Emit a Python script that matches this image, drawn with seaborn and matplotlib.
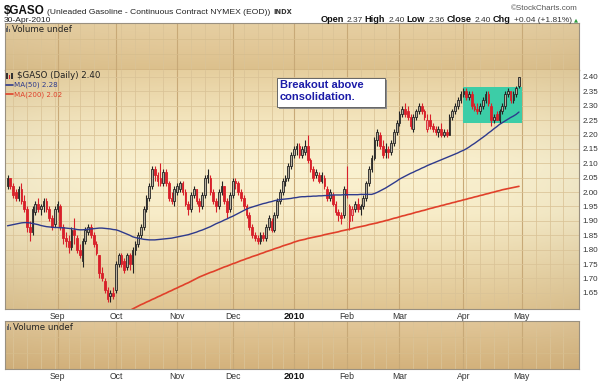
import numpy as np
import pandas as pd
import matplotlib
matplotlib.use("Agg")
import matplotlib.pyplot as plt
import seaborn as sns
from matplotlib.patches import Rectangle
from matplotlib.colors import LinearSegmentedColormap
from matplotlib.text import Annotation

sns.set_theme(style="white")
plt.rcParams["font.family"] = ["Liberation Sans", "DejaVu Sans"]

# ---------------- data ----------------
start_date = "2009-08-06"
end_axis_date = "2010-05-31"
holidays = ["2009-09-07", "2009-11-26", "2009-12-25", "2010-01-01",
            "2010-01-18", "2010-02-15", "2010-04-02", "2010-05-31"]

opens = [2.02,2.05,2.02,2.00,1.98,2.01,1.97,1.94,1.88,1.86,
         1.93,1.96,1.94,1.95,1.97,1.94,1.91,1.89,1.94,1.95,
         1.88,1.84,1.83,1.81,1.87,1.84,1.80,1.76,1.83,1.86,
         1.88,1.85,1.82,1.78,1.72,1.69,1.66,1.64,1.65,1.66,
         1.75,1.78,1.76,1.74,1.78,1.75,1.80,1.82,1.85,1.88,
         1.94,1.98,2.02,2.08,2.06,2.05,2.03,2.07,2.03,1.98,
         1.97,2.00,2.01,2.03,2.00,1.96,1.94,1.99,2.01,1.97,
         1.95,1.99,2.05,2.05,2.00,1.97,1.95,2.00,2.02,1.97,
         1.94,1.99,2.04,2.03,2.00,1.98,1.95,1.92,1.88,1.85,
         1.84,1.83,1.85,1.84,1.88,1.90,1.87,1.92,1.97,2.00,
         2.04,2.05,2.09,2.13,2.15,2.16,2.13,2.14,2.16,2.11,
         2.08,2.06,2.06,2.04,2.05,2.01,1.98,1.99,1.96,1.93,
         1.92,1.92,2.01,1.90,1.92,1.94,1.96,1.94,1.95,1.98,
         2.03,2.08,2.12,2.18,2.20,2.16,2.14,2.15,2.14,2.17,
         2.21,2.24,2.27,2.29,2.28,2.26,2.22,2.26,2.28,2.30,
         2.28,2.22,2.25,2.23,2.22,2.21,2.22,2.20,2.21,2.20,
         2.26,2.28,2.30,2.32,2.34,2.35,2.33,2.34,2.30,2.29,
         2.28,2.30,2.32,2.34,2.30,2.25,2.27,2.25,2.28,2.30,
         2.34,2.35,2.32,2.34,2.37]
highs = [2.06,2.05,2.03,2.01,2.02,2.03,1.99,1.95,1.90,1.95,
         1.97,1.98,1.96,1.98,1.98,1.95,1.92,1.95,1.97,1.96,
         1.89,1.86,1.85,1.88,1.91,1.85,1.82,1.84,1.88,1.89,
         1.89,1.86,1.83,1.78,1.74,1.70,1.67,1.66,1.67,1.76,
         1.79,1.79,1.77,1.79,1.79,1.81,1.83,1.86,1.89,1.95,
         1.99,2.03,2.09,2.09,2.07,2.10,2.08,2.08,2.04,2.00,
         2.02,2.03,2.04,2.04,2.01,1.97,2.00,2.02,2.01,1.98,
         2.00,2.06,2.08,2.06,2.01,1.98,2.01,2.04,2.02,1.98,
         2.00,2.05,2.05,2.04,2.01,1.99,1.96,1.93,1.89,1.86,
         1.85,1.86,1.86,1.89,1.92,1.91,1.93,1.98,2.01,2.05,
         2.06,2.10,2.14,2.16,2.17,2.17,2.16,2.18,2.20,2.12,
         2.09,2.08,2.07,2.07,2.06,2.02,2.01,2.00,1.97,1.94,
         1.93,2.02,2.09,1.96,1.95,1.97,1.98,1.96,1.99,2.04,
         2.09,2.13,2.19,2.22,2.21,2.18,2.17,2.16,2.18,2.22,
         2.25,2.28,2.30,2.31,2.30,2.27,2.27,2.29,2.31,2.31,
         2.29,2.27,2.27,2.24,2.23,2.23,2.24,2.22,2.22,2.27,
         2.29,2.31,2.33,2.35,2.36,2.36,2.35,2.35,2.31,2.31,
         2.31,2.33,2.35,2.35,2.31,2.27,2.28,2.29,2.31,2.35,
         2.36,2.35,2.35,2.37,2.40]
lows = [2.01,2.01,1.98,1.97,1.97,1.96,1.93,1.86,1.83,1.85,
        1.92,1.93,1.92,1.93,1.93,1.90,1.87,1.88,1.93,1.87,
        1.82,1.81,1.79,1.80,1.82,1.79,1.77,1.74,1.82,1.85,
        1.84,1.81,1.78,1.70,1.69,1.65,1.62,1.62,1.63,1.65,
        1.74,1.74,1.72,1.73,1.73,1.72,1.78,1.81,1.84,1.87,
        1.93,1.97,2.01,2.04,2.02,2.02,2.02,2.02,1.97,1.96,
        1.95,1.99,2.00,1.99,1.95,1.92,1.93,1.98,1.96,1.93,
        1.94,1.98,2.03,1.99,1.96,1.93,1.94,1.99,1.96,1.91,
        1.93,1.98,2.01,1.99,1.97,1.94,1.91,1.87,1.84,1.83,
        1.82,1.82,1.83,1.83,1.87,1.86,1.86,1.91,1.96,1.99,
        2.02,2.04,2.08,2.12,2.13,2.12,2.12,2.13,2.10,2.07,
        2.04,2.05,2.03,2.03,2.01,1.97,1.97,1.95,1.92,1.90,
        1.89,1.91,1.98,1.87,1.90,1.93,1.93,1.92,1.94,1.97,
        2.02,2.07,2.11,2.16,2.15,2.12,2.12,2.12,2.13,2.16,
        2.20,2.23,2.26,2.26,2.25,2.22,2.21,2.25,2.27,2.27,
        2.25,2.21,2.22,2.21,2.20,2.19,2.19,2.19,2.19,2.20,
        2.25,2.27,2.29,2.31,2.33,2.32,2.32,2.29,2.28,2.27,
        2.27,2.29,2.31,2.30,2.23,2.24,2.25,2.24,2.27,2.29,
        2.33,2.31,2.31,2.33,2.36]
closes = [2.05,2.02,1.99,1.98,2.01,1.97,1.94,1.88,1.86,1.94,
          1.96,1.94,1.95,1.97,1.94,1.91,1.88,1.94,1.96,1.88,
          1.84,1.83,1.81,1.87,1.85,1.80,1.78,1.83,1.87,1.88,
          1.85,1.82,1.79,1.72,1.70,1.66,1.63,1.65,1.64,1.75,
          1.78,1.75,1.73,1.78,1.75,1.80,1.82,1.85,1.88,1.94,
          1.98,2.02,2.08,2.06,2.04,2.03,2.07,2.03,1.98,1.97,
          2.01,2.02,2.03,2.00,1.96,1.94,1.99,2.01,1.97,1.95,
          1.99,2.05,2.06,2.00,1.97,1.95,2.00,2.02,1.97,1.93,
          1.99,2.04,2.03,2.00,1.98,1.95,1.92,1.88,1.85,1.84,
          1.83,1.85,1.84,1.88,1.91,1.87,1.92,1.97,2.00,2.04,
          2.05,2.09,2.13,2.15,2.16,2.13,2.15,2.16,2.11,2.08,
          2.05,2.07,2.04,2.06,2.02,1.98,2.00,1.96,1.93,1.92,
          1.91,2.01,1.99,1.95,1.94,1.96,1.94,1.95,1.98,2.03,
          2.08,2.12,2.18,2.21,2.16,2.13,2.15,2.14,2.17,2.21,
          2.24,2.27,2.29,2.27,2.26,2.23,2.26,2.28,2.30,2.28,
          2.26,2.25,2.23,2.22,2.21,2.22,2.20,2.21,2.20,2.26,
          2.28,2.30,2.32,2.34,2.35,2.33,2.34,2.30,2.29,2.28,
          2.30,2.32,2.34,2.31,2.25,2.26,2.25,2.28,2.30,2.34,
          2.35,2.32,2.34,2.36,2.40]
ma50 = [1.883,1.885,1.887,1.889,1.891,1.893,1.894,
        1.894,1.893,1.891,1.889,1.887,
        1.884,1.882,1.880,1.879,1.878,
        1.877,1.877,1.876,1.876,1.875,
        1.874,1.873,1.872,1.870,1.869,
        1.869,1.870,1.871,1.872,1.873,1.874,1.875,
        1.875,1.874,1.873,1.872,1.870,1.869,
        1.866,1.862,1.858,1.854,1.850,1.845,
        1.842,1.840,1.838,1.836,1.835,1.834,
        1.834,1.834,1.835,1.836,1.837,1.838,
        1.839,1.840,1.842,1.844,1.846,1.848,
        1.850,1.852,1.855,1.858,1.861,1.865,
        1.868,1.872,1.876,1.880,1.885,1.890,
        1.894,1.898,1.903,1.907,1.912,1.916,1.921,
        1.926,1.931,1.936,1.941,1.945,
        1.948,1.951,1.954,1.957,1.960,1.962,1.965,1.967,1.970,1.972,
        1.974,1.975,1.976,1.977,1.978,1.980,1.981,1.983,
        1.984,1.984,1.985,1.985,1.986,1.986,1.987,1.987,1.988,1.988,1.989,1.990,
        1.990,1.990,1.990,1.991,1.991,1.991,1.991,1.991,1.991,1.992,1.992,1.992,1.992,1.992,
        1.995,1.999,2.004,2.009,2.014,2.020,2.026,2.032,2.038,2.045,
        2.050,2.055,2.060,2.065,2.069,2.074,2.078,2.083,2.087,2.092,2.096,2.100,
        2.104,2.108,2.112,2.116,2.120,2.124,2.128,
        2.132,2.136,2.141,2.145,2.150,
        2.156,2.163,2.169,2.176,2.183,2.190,
        2.197,2.205,2.212,2.220,2.227,2.235,
        2.241,2.247,2.253,2.259,2.264,2.270,2.278]
ma200_first_day = 44
ma200 = [1.589,1.594,1.599,1.604,1.609,1.613,
         1.618,1.622,1.627,1.631,1.636,1.640,1.645,1.649,1.654,1.658,
         1.663,1.667,1.672,1.676,1.681,1.685,1.690,1.695,1.700,1.705,
         1.709,1.713,1.717,1.721,1.724,1.728,1.732,1.736,1.740,1.743,1.747,1.751,1.754,1.758,1.762,1.765,
         1.769,1.772,1.776,1.779,1.782,1.786,1.789,1.793,1.796,1.799,1.803,1.806,1.809,1.813,1.816,1.819,1.822,1.826,1.829,1.832,
         1.834,1.836,1.839,1.841,1.843,1.845,1.847,1.849,1.852,1.854,1.856,1.858,1.860,1.862,1.865,1.867,1.869,1.871,1.873,1.876,1.878,1.880,1.882,1.884,1.887,1.889,1.891,1.893,
         1.896,1.898,1.901,1.903,1.906,1.909,1.911,1.914,1.917,1.919,1.922,1.924,1.927,1.930,1.932,1.935,1.937,1.940,1.943,1.945,
         1.948,1.950,1.953,1.955,1.958,1.960,1.963,1.965,1.968,1.970,1.973,1.975,1.978,
         1.980,1.983,1.985,1.988,1.990,1.993,1.995,1.998,2.000,2.003,2.005,2.008,2.010,2.012,2.014,2.016,2.018,2.020]

price_ticks = [1.65, 1.70, 1.75, 1.80, 1.85, 1.90, 1.95, 2.00, 2.05,
               2.10, 2.15, 2.20, 2.25, 2.30, 2.35, 2.40]
month_labels = ["Sep", "Oct", "Nov", "Dec", "2010", "Feb", "Mar", "Apr", "May"]
consolidation_low, consolidation_high = 2.24, 2.365

# ---------------- frames ----------------
n = len(closes)
assert len(opens) == n and len(highs) == n and len(lows) == n and len(ma50) == n
assert ma200_first_day + len(ma200) == n
all_days = pd.bdate_range(start_date, end_axis_date)
all_days = all_days[~all_days.isin(pd.to_datetime(holidays))]
ohlc = pd.DataFrame({"idx": np.arange(n), "date": all_days[:n],
                     "open": opens, "high": highs, "low": lows, "close": closes})
ohlc["prev"] = ohlc["close"].shift(1).fillna(ohlc["open"])
ma = pd.DataFrame({"idx": np.arange(n), "MA50": ma50,
                   "MA200": [np.nan] * ma200_first_day + ma200})

month_idx = [i for i in range(1, len(all_days)) if all_days[i].month != all_days[i - 1].month]
week_idx = [i for i in range(1, len(all_days)) if all_days[i].weekday() < all_days[i - 1].weekday()]

# ---------------- figure ----------------
W, H = 600, 383
fig = plt.figure(figsize=(W / 100, H / 100), dpi=100)
fig.patch.set_facecolor("white")


def rect(x0, y0, x1, y1):
    return [x0 / W, 1 - y1 / H, (x1 - x0) / W, (y1 - y0) / H]


ax_v1 = fig.add_axes(rect(5, 23, 579, 70))
ax = fig.add_axes(rect(5, 70, 579, 309))
ax_v2 = fig.add_axes(rect(5, 321, 579, 369))

XL = (-0.9, 205.6)


def gradient(a, colors, edge_dark=0.0):
    cmap = LinearSegmentedColormap.from_list("g", colors)
    yy = np.linspace(0, 1, 200)[:, None] * np.ones((1, 300))
    img = cmap(yy)[..., :3]
    xx = np.linspace(-1, 1, 300)[None, :]
    img = img * (1 - edge_dark * xx ** 4)[..., None]
    a.imshow(img, extent=[0, 1, 0, 1], transform=a.transAxes, aspect="auto",
             origin="lower", zorder=0, interpolation="bilinear")


gradient(ax, ["#e0c592", "#ecd9ad", "#f8edc9", "#faf1d0", "#f3e4bc", "#e6cf9f"], 0.04)
gradient(ax_v1, ["#dcc08c", "#e2c898", "#e6cfa2"], 0.03)
gradient(ax_v2, ["#d4b27c", "#dbbd8a", "#e2c799"], 0.03)

for a in (ax, ax_v1, ax_v2):
    a.set_xlim(*XL)
    for w in week_idx:
        a.axvline(w, color="#dac397", lw=0.55, zorder=1)
    for m in month_idx:
        a.axvline(m, color="#c8a977", lw=0.8, zorder=1)
    for s in a.spines.values():
        s.set_color("#999080")
        s.set_linestyle((0, (1, 1)))
        s.set_linewidth(0.8)
    a.tick_params(length=0)
    a.set_xlabel("")
    a.set_ylabel("")

for a in (ax_v1, ax_v2):
    a.set_ylim(0, 1)
    a.set_yticks([])
    a.set_xticks([])
    for yv in (0.33, 0.66):
        a.axhline(yv, color="#d6bd8c", lw=0.5, zorder=1)

ax_v1.spines["bottom"].set_linestyle("-")
ax_v1.spines["bottom"].set_color("#b89a6a")
ax_v1.spines["bottom"].set_linewidth(1.0)
ax.spines["top"].set_visible(False)

# main price panel
ax.set_ylim(1.594, 2.424)
for yv in price_ticks:
    ax.axhline(yv, color="#dac397", lw=0.55, zorder=1)

ax.add_patch(Rectangle((163.8, consolidation_low), 185.1 - 163.8,
                       consolidation_high - consolidation_low,
                       facecolor="#3ccda7", edgecolor="none", zorder=2))

RED, BLK = "#d8202a", "#222222"
for r in ohlc.itertuples():
    col = RED if r.close < r.prev else BLK
    ax.vlines(r.idx, r.low, r.high, color=col, lw=0.8, zorder=3)
    lo, hi = min(r.open, r.close), max(r.open, r.close)
    hollow = r.close >= r.open
    face = ("#b8b0a0" if col == BLK else "#eba0a0") if hollow else col
    ax.bar(r.idx, max(hi - lo, 0.003), bottom=lo, width=0.62, color=face,
           edgecolor=col, linewidth=0.6, zorder=4)

sns.lineplot(data=ma, x="idx", y="MA50", ax=ax, color="#2e3a8c", lw=1.0, zorder=5)
sns.lineplot(data=ma, x="idx", y="MA200", ax=ax, color="#e0402a", lw=1.2, zorder=5)
ax.set_xlim(*XL)
ax.set_ylim(1.594, 2.424)
ax.set_xlabel("")
ax.set_ylabel("")

ax.yaxis.tick_right()
ax.set_yticks(price_ticks)
ax.set_yticklabels([f"{v:.2f}" for v in price_ticks], fontsize=5.8, color="#333333")
ax.tick_params(axis="y", pad=2.5, length=0)

for a in (ax, ax_v2):
    a.set_xticks(month_idx[:len(month_labels)])
    a.set_xticklabels(month_labels, fontsize=6.2, color="#333333")
    a.tick_params(axis="x", pad=2, length=0)
    for t in a.get_xticklabels():
        if t.get_text() == "2010":
            t.set_fontweight("bold")
            t.set_color("#111111")
            t.set_fontsize(6.8)

# ---------------- texts ----------------
def chain(x, y, pieces, right=False):
    """pieces listed left-to-right; baseline aligned at figure fraction y."""
    prev = None
    seq = list(reversed(pieces)) if right else pieces
    ha = "right" if right else "left"
    for txt, kw in seq:
        kw = dict(kw)
        gap = kw.pop("gap", 2.0)
        if prev is None:
            prev = fig.text(x, y, txt, ha=ha, va="baseline", **kw)
        else:
            ann = Annotation(txt, xy=(0 if right else 1, y),
                             xycoords=(prev, "figure fraction"),
                             xytext=(-gap if right else gap, 0),
                             textcoords="offset points", ha=ha, va="baseline", **kw)
            fig.add_artist(ann)
            prev = ann


chain(4 / W, 1 - 13.5 / H, [
    ("$GASO", dict(fontsize=8.4, fontweight="bold", color="#111111")),
    ("(Unleaded Gasoline - Continuous Contract NYMEX (EOD))",
     dict(fontsize=6.1, color="#222222", gap=1.5)),
    ("INDX", dict(fontsize=4.8, color="#333333", fontweight="bold",
                  family=["DejaVu Sans"], gap=2.0)),
])
fig.text(4 / W, 1 - 22 / H, "30-Apr-2010", fontsize=6.1, color="#222222", va="baseline")
fig.text(578 / W, 1 - 9.5 / H, "\u00a9StockCharts.com", fontsize=5.8, color="#555555",
         ha="right", va="baseline")

B = dict(fontsize=6.6, fontweight="bold", color="#111111")
R = dict(fontsize=6.0, color="#333333", gap=1.2)
chain(578 / W, 1 - 21.5 / H, [
    ("Open", B), ("2.37", R), ("High", dict(B, gap=2.5)), ("2.40", R),
    ("Low", dict(B, gap=2.5)), ("2.36", R), ("Close", dict(B, gap=2.5)), ("2.40", R),
    ("Chg", dict(B, gap=2.5)), ("+0.04 (+1.81%)", R),
    ("\u25b2", dict(fontsize=3.8, color="#2a9a3a", gap=1.5, family=["DejaVu Sans"])),
], right=True)

V = dict(fontsize=6.2, color="#222222", family=["DejaVu Sans"])
fig.text(12 / W, 1 - 31.5 / H, "Volume undef", va="baseline", **V)
fig.text(13 / W, 1 - 329.5 / H, "Volume undef", va="baseline", **V)
for (x0, y0) in ((5.5, 26), (6.5, 324)):
    for k, hgt in enumerate((4, 6, 3)):
        fig.add_artist(Rectangle(((x0 + k * 1.6) / W, 1 - (y0 + 6) / H), 1.1 / W, hgt / H,
                                 transform=fig.transFigure, facecolor="#666666",
                                 edgecolor="none"))

L = dict(fontsize=6.2, family=["DejaVu Sans"], va="baseline")
fig.text(17 / W, 1 - 78.5 / H, "$GASO (Daily) 2.40", color="#222222", **L)
fig.text(14 / W, 1 - 87 / H, "MA(50) 2.28", color="#2e3a8c", **dict(L, fontsize=5.1))
fig.text(14 / W, 1 - 96.5 / H, "MA(200) 2.02", color="#e0402a", **dict(L, fontsize=5.1))
fig.add_artist(plt.Line2D([6 / W, 13 / W], [1 - 84.5 / H] * 2, color="#2e3a8c", lw=1.2,
                          transform=fig.transFigure))
fig.add_artist(plt.Line2D([6 / W, 13 / W], [1 - 94 / H] * 2, color="#e0402a", lw=1.2,
                          transform=fig.transFigure))
for k, (hgt, col) in enumerate(((6, "#333333"), (4, "#d8202a"), (6, "#333333"))):
    fig.add_artist(Rectangle(((6 + k * 2.6) / W, 1 - 79 / H), 1.6 / W, hgt / H,
                             transform=fig.transFigure, facecolor=col, edgecolor="none"))

# annotation box
fig.add_artist(Rectangle((279 / W, 1 - 109 / H), 108 / W, 29 / H, transform=fig.transFigure,
                         facecolor="#8a8a8a", edgecolor="none", zorder=9))
fig.add_artist(Rectangle((277 / W, 1 - 107 / H), 108 / W, 29 / H, transform=fig.transFigure,
                         facecolor="white", edgecolor="#666666", lw=0.7, zorder=10))
fig.text(279.5 / W, 1 - 80 / H, "Breakout above\nconsolidation.", ha="left", va="top",
         fontsize=8.0, fontweight="bold", color="#1c1ca8", linespacing=1.2, zorder=11)

fig.savefig("out.png", dpi=100, facecolor="white")
